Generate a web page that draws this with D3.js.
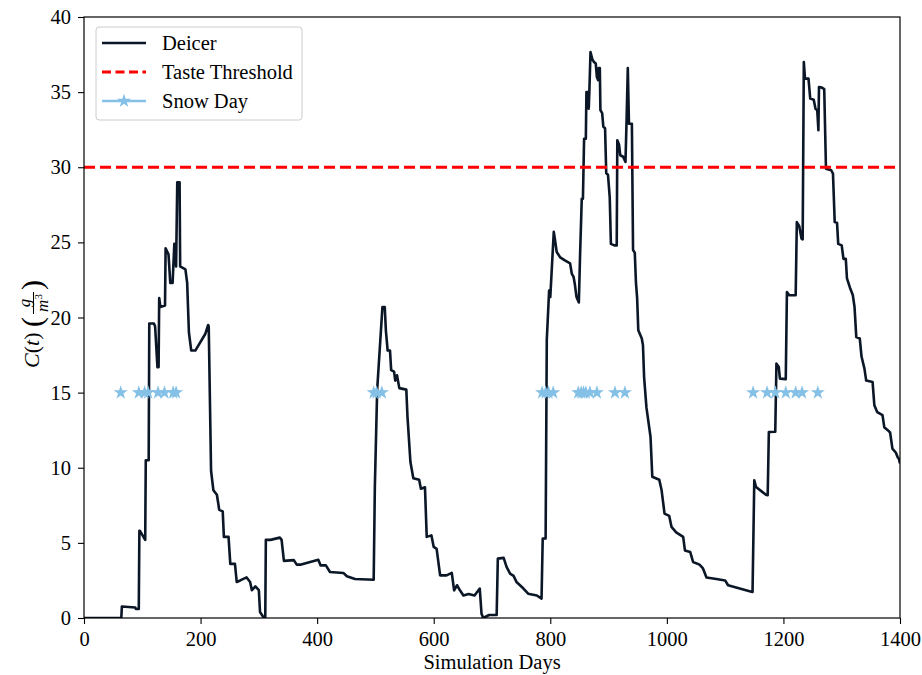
<!DOCTYPE html>
<html>
<head>
<meta charset="utf-8">
<script src="https://cdn.jsdelivr.net/npm/d3@7"></script>
<style>
  body { margin: 0; background: #fff; }
  svg text { font-family: "Liberation Serif", "Times New Roman", serif; fill: #000; }
</style>
</head>
<body>
<svg id="chart" width="922" height="675"></svg>
<script>
// Deicer concentration C(t) in g/m^3 over the simulated days
const deicerDays = [
  0, 64, 65, 88, 89, 94, 95, 96, 105, 106, 111, 112, 120, 122, 126, 128, 129, 131, 139, 140,
  145, 148, 152, 155, 158, 160, 164, 165, 174, 177, 180, 184, 191, 208, 213, 214, 218, 222, 228, 232,
  238, 240, 248, 251, 259, 262, 268, 279, 285, 288, 294, 300, 302, 307, 311, 312, 320, 336, 339, 343,
  360, 365, 371, 402, 406, 415, 422, 445, 451, 465, 497, 499, 503, 512, 516, 518, 521, 525, 527, 532,
  534, 537, 541, 553, 555, 560, 565, 575, 578, 585, 588, 596, 600, 605, 611, 622, 631, 635, 640, 645,
  651, 660, 670, 679, 682, 685, 695, 708, 710, 720, 725, 731, 737, 742, 754, 762, 777, 785, 787, 792,
  794, 798, 800, 806, 808, 811, 817, 825, 834, 837, 840, 842, 845, 849, 851, 854, 856, 858, 861, 862,
  865, 866, 867, 869, 872, 875, 878, 880, 882, 883, 885, 886, 889, 891, 894, 896, 899, 902, 904, 910,
  914, 915, 918, 920, 925, 929, 931, 933, 935, 940, 942, 945, 947, 949, 951, 957, 959, 961, 965, 972,
  975, 981, 987, 991, 996, 1004, 1008, 1016, 1028, 1031, 1040, 1045, 1056, 1062, 1068, 1085, 1100, 1105, 1125, 1145,
  1147, 1150, 1153, 1170, 1173, 1175, 1186, 1188, 1192, 1194, 1204, 1206, 1210, 1221, 1223, 1227, 1231, 1233, 1235, 1237,
  1243, 1246, 1252, 1255, 1258, 1260, 1261, 1266, 1270, 1273, 1282, 1285, 1288, 1292, 1294, 1300, 1303, 1307, 1309, 1314,
  1319, 1322, 1325, 1331, 1334, 1339, 1342, 1353, 1356, 1361, 1370, 1373, 1379, 1383, 1387, 1393, 1396, 1398, 1400
];
const deicerConc = [
  0, 0, 0.77, 0.7, 0.6, 0.6, 5.8, 5.8, 5.2, 10.5, 10.5, 19.6, 19.6, 19.4, 16.7, 16.7, 21.3, 20.7, 20.8, 24.6,
  24.2, 22.3, 22.3, 24.9, 23.4, 29.0, 29.0, 23.4, 23.2, 22.3, 19.0, 17.8, 17.8, 18.9, 19.5, 19.4, 9.8, 8.5, 8.2, 7.2,
  7.1, 5.4, 5.4, 3.6, 3.6, 2.4, 2.5, 2.7, 2.4, 1.85, 2.1, 1.85, 0.4, 0.1, 0, 5.2, 5.2, 5.35, 5.2, 3.8,
  3.85, 3.55, 3.55, 3.88, 3.5, 3.5, 3.06, 3.0, 2.78, 2.6, 2.55, 8.7, 15.2, 20.7, 20.7, 19.1, 17.8, 17.8, 16.5, 16.4,
  15.8, 16.15, 15.3, 15.2, 13.4, 10.4, 9.3, 9.2, 8.6, 8.7, 5.4, 5.5, 4.73, 4.6, 2.84, 2.84, 3.0, 1.84, 2.18, 1.84,
  1.5, 1.6, 1.5, 1.96, 0.29, 0, 0.2, 0.2, 3.95, 4.0, 3.4, 2.95, 2.8, 2.4, 1.96, 1.62, 1.5, 1.29, 5.28, 5.3,
  18.5, 21.8, 21.36, 25.7, 25.2, 24.36, 24.0, 23.8, 23.6, 22.9, 22.7, 22.25, 21.36, 21.0, 24.0, 27.9, 27.9, 31.9, 31.9, 35.0,
  35.0, 33.9, 35.0, 37.67, 37.2, 37.0, 36.9, 36.0, 35.8, 36.6, 36.6, 33.8, 33.6, 32.7, 32.6, 29.6, 29.5, 28.0, 24.9, 24.8,
  24.8, 31.8, 31.5, 30.8, 30.7, 30.35, 33.3, 36.6, 32.9, 32.9, 24.5, 24.3, 22.3, 21.3, 19.15, 18.6, 18.15, 16.0, 14.0, 12.05,
  9.4, 9.3, 9.2, 8.5, 6.95, 6.8, 6.06, 5.7, 5.4, 4.5, 4.4, 3.73, 3.55, 3.3, 2.7, 2.6, 2.5, 2.18, 1.96, 1.75,
  1.73, 9.17, 8.72, 8.2, 8.17, 12.38, 12.4, 16.93, 16.7, 15.93, 15.9, 21.7, 21.48, 21.48, 26.35, 26.1, 25.25, 25.2, 37.0, 35.9,
  35.9, 34.57, 34.5, 33.9, 33.8, 32.46, 35.34, 35.3, 35.2, 29.9, 29.8, 29.58, 26.35, 26.3, 24.9, 24.8, 23.9, 23.9, 22.6, 22.0,
  21.5, 20.7, 18.7, 18.6, 17.4, 16.6, 15.8, 15.7, 14.16, 13.7, 13.5, 12.7, 12.5, 12.35, 11.27, 11.0, 10.7, 10.6, 10.28
];

// Days with snowfall, marked on a fixed level of the chart
const snowDays = [
  63, 94, 104, 110, 127, 138, 153, 158,
  497, 502, 511,
  786, 792, 797, 805, 848, 853, 857, 861, 868, 880, 911, 928,
  1148, 1172, 1186, 1204, 1221, 1232, 1259
];
const snowMarkerLevel = 15;
const tasteThreshold = 30;

const xTickValues = [0, 200, 400, 600, 800, 1000, 1200, 1400];
const yTickValues = [0, 5, 10, 15, 20, 25, 30, 35, 40];
const xLabel = "Simulation Days";
const legendLabels = ["Deicer", "Taste Threshold", "Snow Day"];

const colors = { deicer: "#0b1627", threshold: "#ff0000", snow: "#85c0e6" };
const FONT = '"Liberation Serif", "Times New Roman", serif';

const svg = d3.select("#chart");
const plot = { left: 84, top: 17, right: 900, bottom: 618 };

const x = d3.scaleLinear().domain([0, 1400]).range([plot.left, plot.right]);
const y = d3.scaleLinear().domain([0, 40]).range([plot.bottom, plot.top]);

svg.append("defs").append("clipPath").attr("id", "plot-clip")
  .append("rect")
  .attr("x", plot.left).attr("y", plot.top)
  .attr("width", plot.right - plot.left).attr("height", plot.bottom - plot.top);

// Axes
const xAxis = svg.append("g")
  .attr("transform", `translate(0,${plot.bottom})`)
  .call(d3.axisBottom(x).tickValues(xTickValues).tickFormat(d3.format("d")).tickSize(6).tickPadding(7));
const yAxis = svg.append("g")
  .attr("transform", `translate(${plot.left},0)`)
  .call(d3.axisLeft(y).tickValues(yTickValues).tickFormat(d3.format("d")).tickSize(6).tickPadding(7));
[xAxis, yAxis].forEach(g => {
  g.attr("font-family", FONT);
  g.select(".domain").remove();
  g.selectAll(".tick line").attr("stroke", "#000").attr("stroke-width", 1.1);
  g.selectAll(".tick text").attr("font-size", 20.5).attr("fill", "#000");
});

// Deicer series
const deicerPoints = deicerDays.map((d, i) => [d, deicerConc[i]]);
const line = d3.line().x(d => x(d[0])).y(d => y(d[1]));
svg.append("path")
  .datum(deicerPoints)
  .attr("clip-path", "url(#plot-clip)")
  .attr("fill", "none")
  .attr("stroke", colors.deicer)
  .attr("stroke-width", 2.6)
  .attr("stroke-linejoin", "round")
  .attr("d", line);

// Taste threshold
svg.append("line")
  .attr("x1", x(0)).attr("x2", x(1400))
  .attr("y1", y(tasteThreshold)).attr("y2", y(tasteThreshold))
  .attr("stroke", colors.threshold)
  .attr("stroke-width", 2.8)
  .attr("stroke-dasharray", "11,5");

// Snow day markers
const star = d3.symbol().type(d3.symbolStar).size(62);
svg.append("g").selectAll("path")
  .data(snowDays)
  .join("path")
  .attr("transform", d => `translate(${x(d)},${y(snowMarkerLevel)})`)
  .attr("d", star)
  .attr("fill", colors.snow);

// Frame
svg.append("rect")
  .attr("x", plot.left).attr("y", plot.top)
  .attr("width", plot.right - plot.left).attr("height", plot.bottom - plot.top)
  .attr("fill", "none").attr("stroke", "#000").attr("stroke-width", 1.2);

// X label
svg.append("text")
  .attr("x", (plot.left + plot.right) / 2).attr("y", 669)
  .attr("text-anchor", "middle").attr("font-size", 20.5)
  .text(xLabel);

// Y label: C(t) (g / m^3), written along the rotated axis
const yl = svg.append("g").attr("transform", "translate(38,313) rotate(-90)");
const yt = yl.append("text").attr("font-size", 22).attr("x", -55).attr("y", 1);
yt.append("tspan").attr("font-style", "italic").text("C");
yt.append("tspan").text("(");
yt.append("tspan").attr("font-style", "italic").text("t");
yt.append("tspan").text(")");
yl.append("text").attr("x", -14).attr("y", 4).attr("font-size", 30).text("(");
yl.append("text").attr("x", 10).attr("y", -8).attr("font-size", 17)
  .attr("font-style", "italic").attr("text-anchor", "middle").text("g");
yl.append("line").attr("x1", -1).attr("x2", 21).attr("y1", -4.5).attr("y2", -4.5)
  .attr("stroke", "#000").attr("stroke-width", 1);
const den = yl.append("text").attr("x", 10).attr("y", 10).attr("font-size", 17).attr("text-anchor", "middle");
den.append("tspan").attr("font-style", "italic").text("m");
den.append("tspan").attr("font-size", 11).attr("dy", -6).text("3");
yl.append("text").attr("x", 23).attr("y", 4).attr("font-size", 30).text(")");

// Legend
const lg = svg.append("g");
lg.append("rect")
  .attr("x", 96).attr("y", 27).attr("width", 206).attr("height", 93)
  .attr("rx", 3).attr("fill", "#fff").attr("fill-opacity", 0.8)
  .attr("stroke", "#cccccc").attr("stroke-width", 1);
const rows = [43, 72, 101];
lg.append("line").attr("x1", 102).attr("x2", 146).attr("y1", rows[0]).attr("y2", rows[0])
  .attr("stroke", colors.deicer).attr("stroke-width", 2.6);
lg.append("line").attr("x1", 102).attr("x2", 146).attr("y1", rows[1]).attr("y2", rows[1])
  .attr("stroke", colors.threshold).attr("stroke-width", 2.8).attr("stroke-dasharray", "9,4.5");
lg.append("line").attr("x1", 102).attr("x2", 146).attr("y1", rows[2]).attr("y2", rows[2])
  .attr("stroke", colors.snow).attr("stroke-width", 2.6);
lg.append("path").attr("transform", `translate(124,${rows[2]})`).attr("d", star).attr("fill", colors.snow);
legendLabels.forEach((t, i) => {
  lg.append("text").attr("x", 162).attr("y", rows[i] + 7).attr("font-size", 20.5).text(t);
});
</script>
</body>
</html>
